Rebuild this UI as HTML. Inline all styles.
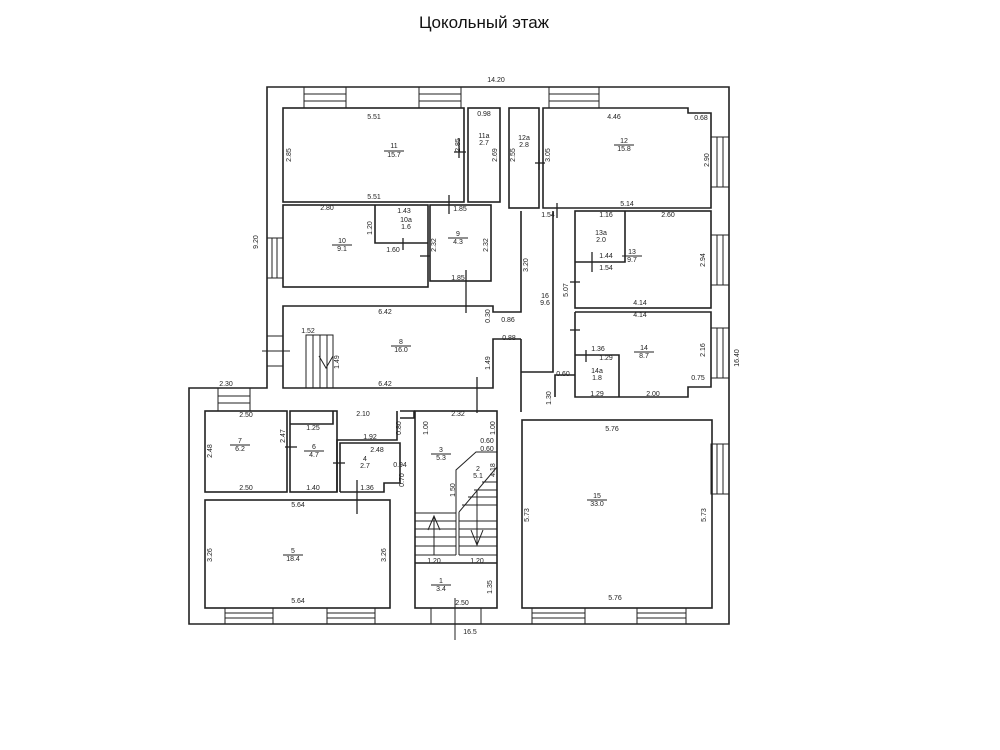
<!DOCTYPE html>
<html><head><meta charset="utf-8"><style>
body{margin:0;background:#fff;}
svg{display:block}
text{font-family:"Liberation Sans",sans-serif;font-size:7px;fill:#222}
.t{font-size:17px;fill:#111}
.w{fill:none;stroke:#222;stroke-width:1.6}
.n{fill:none;stroke:#222;stroke-width:1}
</style></head><body>
<svg width="1000" height="750" viewBox="0 0 1000 750" xmlns="http://www.w3.org/2000/svg">
<text class="t" x="484" y="28" text-anchor="middle">Цокольный этаж</text>
<text x="496" y="82" text-anchor="middle">14.20</text>
<text x="470" y="634" text-anchor="middle">16.5</text>
<text transform="translate(739,358) rotate(-90)" text-anchor="middle">16.40</text>
<text transform="translate(258,242) rotate(-90)" text-anchor="middle">9.20</text>

<polygon class="w" points="267,87 729,87 729,624 189,624 189,388 267,388"/>

<g class="n">
<rect x="304" y="87" width="42" height="21"/><line x1="304" y1="94" x2="346" y2="94"/><line x1="304" y1="101" x2="346" y2="101"/>
<rect x="419" y="87" width="42" height="21"/><line x1="419" y1="94" x2="461" y2="94"/><line x1="419" y1="101" x2="461" y2="101"/>
<rect x="549" y="87" width="50" height="21"/><line x1="549" y1="94" x2="599" y2="94"/><line x1="549" y1="101" x2="599" y2="101"/>
<rect x="711" y="137" width="18" height="50"/><line x1="717" y1="137" x2="717" y2="187"/><line x1="723" y1="137" x2="723" y2="187"/>
<rect x="711" y="235" width="18" height="50"/><line x1="717" y1="235" x2="717" y2="285"/><line x1="723" y1="235" x2="723" y2="285"/>
<rect x="711" y="328" width="18" height="50"/><line x1="717" y1="328" x2="717" y2="378"/><line x1="723" y1="328" x2="723" y2="378"/>
<rect x="711" y="444" width="18" height="50"/><line x1="717" y1="444" x2="717" y2="494"/><line x1="723" y1="444" x2="723" y2="494"/>
<rect x="267" y="238" width="16" height="40"/><line x1="272" y1="238" x2="272" y2="278"/><line x1="277" y1="238" x2="277" y2="278"/>
<rect x="267" y="336" width="16" height="30"/><line x1="262" y1="351" x2="290" y2="351"/>
<rect x="218" y="388" width="32" height="23"/><line x1="218" y1="396" x2="250" y2="396"/><line x1="218" y1="403" x2="250" y2="403"/>
<rect x="225" y="608" width="48" height="16"/><line x1="225" y1="613" x2="273" y2="613"/><line x1="225" y1="618" x2="273" y2="618"/>
<rect x="327" y="608" width="48" height="16"/><line x1="327" y1="613" x2="375" y2="613"/><line x1="327" y1="618" x2="375" y2="618"/>
<rect x="532" y="608" width="53" height="16"/><line x1="532" y1="613" x2="585" y2="613"/><line x1="532" y1="618" x2="585" y2="618"/>
<rect x="637" y="608" width="49" height="16"/><line x1="637" y1="613" x2="686" y2="613"/><line x1="637" y1="618" x2="686" y2="618"/>
<rect x="431" y="608" width="50" height="16"/><line x1="455" y1="598" x2="455" y2="640"/>
</g>

<g class="w">
<rect x="283" y="108" width="181" height="94"/>
<rect x="468" y="108" width="32" height="94"/>
<rect x="509" y="108" width="30" height="100"/>
<polygon points="543,108 688,108 688,113 711,113 711,208 543,208"/>
<rect x="283" y="205" width="145" height="82"/>
<polyline points="375,205 375,243 428,243"/>
<rect x="430" y="205" width="61" height="76"/>
<polyline points="521,211 521,312 493,312 493,306 283,306 283,388 493,388 493,339 521,339"/>
<polyline points="521,339 521,412"/>
<rect x="575" y="211" width="136" height="97"/>
<polyline points="575,262 625,262 625,211"/>
<polyline points="575,312 711,312 711,387 688,387 688,397 575,397 575,312"/>
<polyline points="575,355 619,355 619,397"/>
<polyline points="555,397 555,375 575,375"/>
<polyline points="553,211 553,372 521,372"/>
<rect x="205" y="411" width="82" height="81"/>
<rect x="290" y="411" width="47" height="81"/>
<polyline points="290,424 333,424 333,411"/>
<polyline points="337,492 337,440 397,440 397,411"/>
<polyline points="340,492 340,443 400,443 400,483 384,483 384,492 340,492"/>
<rect x="205" y="500" width="185" height="108"/>
<polyline points="400,411 414,411 414,418 400,418"/>
<rect x="415" y="411" width="82" height="197"/>
<line x1="415" y1="563" x2="497" y2="563"/>
<rect x="522" y="420" width="190" height="188"/>
</g>
<g class="n">
<polyline points="456,555 456,470 476,452 497,452"/>
<line x1="459" y1="555" x2="459" y2="512"/>
<line x1="459" y1="512" x2="497" y2="467"/>
<line x1="415" y1="513" x2="456" y2="513"/><line x1="415" y1="521" x2="456" y2="521"/><line x1="415" y1="529" x2="456" y2="529"/><line x1="415" y1="537" x2="456" y2="537"/><line x1="415" y1="546" x2="456" y2="546"/><line x1="415" y1="555" x2="456" y2="555"/>
<line x1="459" y1="521" x2="497" y2="521"/><line x1="459" y1="529" x2="497" y2="529"/><line x1="459" y1="537" x2="497" y2="537"/><line x1="459" y1="546" x2="497" y2="546"/><line x1="459" y1="555" x2="497" y2="555"/>
<line x1="474" y1="490" x2="497" y2="490"/><line x1="468" y1="497" x2="497" y2="497"/><line x1="462" y1="505" x2="497" y2="505"/><line x1="482" y1="482" x2="497" y2="482"/>
<line x1="434" y1="555" x2="434" y2="516"/><polyline points="428,530 434,516 440,530"/>
<line x1="477" y1="490" x2="477" y2="545"/><polyline points="471,530 477,545 483,530"/>
<rect x="306" y="335" width="27" height="53"/>
<line x1="313" y1="335" x2="313" y2="388"/><line x1="320" y1="335" x2="320" y2="388"/><line x1="327" y1="335" x2="327" y2="388"/>
<polyline points="319,356 326,368 333,356"/>
</g>
<g text-anchor="middle">
<text x="394" y="148">11</text><line x1="384" y1="151" x2="404" y2="151" stroke="#222" stroke-width="1"/><text x="394" y="157">15.7</text>
<text x="484" y="138">11a</text><text x="484" y="145">2.7</text>
<text x="524" y="140">12a</text><text x="524" y="147">2.8</text>
<text x="624" y="143">12</text><line x1="614" y1="145" x2="634" y2="145" stroke="#222"/><text x="624" y="151">15.8</text>
<text x="342" y="243">10</text><line x1="332" y1="245" x2="352" y2="245" stroke="#222"/><text x="342" y="251">9.1</text>
<text x="406" y="222">10a</text><text x="406" y="229">1.6</text>
<text x="458" y="236">9</text><line x1="448" y1="238" x2="468" y2="238" stroke="#222"/><text x="458" y="244">4.3</text>
<text x="401" y="344">8</text><line x1="391" y1="346" x2="411" y2="346" stroke="#222"/><text x="401" y="352">16.0</text>
<text x="632" y="254">13</text><line x1="622" y1="256" x2="642" y2="256" stroke="#222"/><text x="632" y="262">9.7</text>
<text x="601" y="235">13a</text><text x="601" y="242">2.0</text>
<text x="545" y="298">16</text><text x="545" y="305">9.6</text>
<text x="644" y="350">14</text><line x1="634" y1="352" x2="654" y2="352" stroke="#222"/><text x="644" y="358">8.7</text>
<text x="597" y="373">14a</text><text x="597" y="380">1.8</text>
<text x="240" y="443">7</text><line x1="230" y1="445" x2="250" y2="445" stroke="#222"/><text x="240" y="451">6.2</text>
<text x="314" y="449">6</text><line x1="304" y1="451" x2="324" y2="451" stroke="#222"/><text x="314" y="457">4.7</text>
<text x="365" y="461">4</text><text x="365" y="468">2.7</text>
<text x="441" y="452">3</text><line x1="431" y1="454" x2="451" y2="454" stroke="#222"/><text x="441" y="460">5.3</text>
<text x="478" y="471">2</text><text x="478" y="478">5.1</text>
<text x="293" y="553">5</text><line x1="283" y1="555" x2="303" y2="555" stroke="#222"/><text x="293" y="561">18.4</text>
<text x="441" y="583">1</text><line x1="431" y1="585" x2="451" y2="585" stroke="#222"/><text x="441" y="591">3.4</text>
<text x="597" y="498">15</text><line x1="587" y1="500" x2="607" y2="500" stroke="#222"/><text x="597" y="506">33.0</text>
</g>
<g text-anchor="middle">
<text x="374" y="119">5.51</text><text x="374" y="199">5.51</text>
<text x="484" y="116">0.98</text>
<text x="614" y="119">4.46</text><text x="701" y="120">0.68</text>
<text x="627" y="206">5.14</text>
<text x="327" y="210">2.80</text><text x="404" y="213">1.43</text><text x="393" y="252">1.60</text>
<text x="460" y="211">1.85</text><text x="458" y="280">1.85</text>
<text x="385" y="314">6.42</text><text x="385" y="386">6.42</text>
<text x="308" y="333">1.52</text><text x="508" y="322">0.86</text><text x="509" y="340">0.88</text>
<text x="548" y="217">1.54</text><text x="668" y="217">2.60</text><text x="606" y="217">1.16</text>
<text x="606" y="258">1.44</text><text x="606" y="270">1.54</text>
<text x="640" y="305">4.14</text><text x="640" y="317">4.14</text>
<text x="598" y="351">1.36</text><text x="606" y="360">1.29</text>
<text x="597" y="396">1.29</text><text x="653" y="396">2.00</text><text x="698" y="380">0.75</text>
<text x="563" y="376">0.60</text>
<text x="226" y="386">2.30</text><text x="246" y="417">2.50</text><text x="246" y="490">2.50</text>
<text x="313" y="430">1.25</text><text x="363" y="416">2.10</text><text x="370" y="439">1.92</text><text x="377" y="452">2.48</text>
<text x="313" y="490">1.40</text><text x="367" y="490">1.36</text><text x="400" y="467">0.94</text>
<text x="298" y="507">5.64</text><text x="298" y="603">5.64</text>
<text x="458" y="416">2.32</text><text x="487" y="443">0.60</text><text x="487" y="451">0.60</text>
<text x="434" y="563">1.20</text><text x="477" y="563">1.20</text><text x="462" y="605">2.50</text>
<text x="612" y="431">5.76</text><text x="615" y="600">5.76</text>
</g>
<g>
<text transform="translate(291,155) rotate(-90)" text-anchor="middle">2.85</text>
<text transform="translate(460,145) rotate(-90)" text-anchor="middle">2.85</text>
<text transform="translate(497,155) rotate(-90)" text-anchor="middle">2.69</text>
<text transform="translate(515,155) rotate(-90)" text-anchor="middle">2.55</text>
<text transform="translate(550,155) rotate(-90)" text-anchor="middle">3.05</text>
<text transform="translate(709,160) rotate(-90)" text-anchor="middle">2.90</text>
<text transform="translate(372,228) rotate(-90)" text-anchor="middle">1.20</text>
<text transform="translate(436,245) rotate(-90)" text-anchor="middle">2.32</text>
<text transform="translate(488,245) rotate(-90)" text-anchor="middle">2.32</text>
<text transform="translate(528,265) rotate(-90)" text-anchor="middle">3.20</text>
<text transform="translate(568,290) rotate(-90)" text-anchor="middle">5.07</text>
<text transform="translate(705,260) rotate(-90)" text-anchor="middle">2.94</text>
<text transform="translate(705,350) rotate(-90)" text-anchor="middle">2.16</text>
<text transform="translate(490,316) rotate(-90)" text-anchor="middle">0.30</text>
<text transform="translate(490,363) rotate(-90)" text-anchor="middle">1.49</text>
<text transform="translate(339,362) rotate(-90)" text-anchor="middle">1.49</text>
<text transform="translate(551,398) rotate(-90)" text-anchor="middle">1.30</text>
<text transform="translate(212,451) rotate(-90)" text-anchor="middle">2.48</text>
<text transform="translate(285,436) rotate(-90)" text-anchor="middle">2.47</text>
<text transform="translate(401,428) rotate(-90)" text-anchor="middle">0.80</text>
<text transform="translate(428,428) rotate(-90)" text-anchor="middle">1.00</text>
<text transform="translate(495,428) rotate(-90)" text-anchor="middle">1.00</text>
<text transform="translate(404,480) rotate(-90)" text-anchor="middle">0.70</text>
<text transform="translate(455,490) rotate(-90)" text-anchor="middle">1.50</text>
<text transform="translate(495,470) rotate(-90)" text-anchor="middle">4.18</text>
<text transform="translate(212,555) rotate(-90)" text-anchor="middle">3.26</text>
<text transform="translate(386,555) rotate(-90)" text-anchor="middle">3.26</text>
<text transform="translate(492,587) rotate(-90)" text-anchor="middle">1.35</text>
<text transform="translate(529,515) rotate(-90)" text-anchor="middle">5.73</text>
<text transform="translate(706,515) rotate(-90)" text-anchor="middle">5.73</text>
</g>
<g stroke="#222" stroke-width="1.3">
<line x1="459" y1="138" x2="459" y2="158"/><line x1="454" y1="152" x2="466" y2="152"/>
<line x1="539" y1="150" x2="539" y2="170"/><line x1="535" y1="163" x2="545" y2="163"/>
<line x1="449" y1="195" x2="449" y2="214"/>
<line x1="403" y1="238" x2="403" y2="250"/>
<line x1="420" y1="256" x2="430" y2="256"/>
<line x1="466" y1="270" x2="466" y2="313"/>
<line x1="477" y1="377" x2="477" y2="413"/>
<line x1="557" y1="203" x2="557" y2="218"/>
<line x1="592" y1="252" x2="592" y2="272"/>
<line x1="570" y1="282" x2="580" y2="282"/><line x1="570" y1="330" x2="580" y2="330"/>
<line x1="586" y1="350" x2="586" y2="362"/>
<line x1="285" y1="447" x2="297" y2="447"/><line x1="333" y1="463" x2="345" y2="463"/>
<line x1="357" y1="480" x2="357" y2="514"/>
</g>
</svg>
</body></html>
